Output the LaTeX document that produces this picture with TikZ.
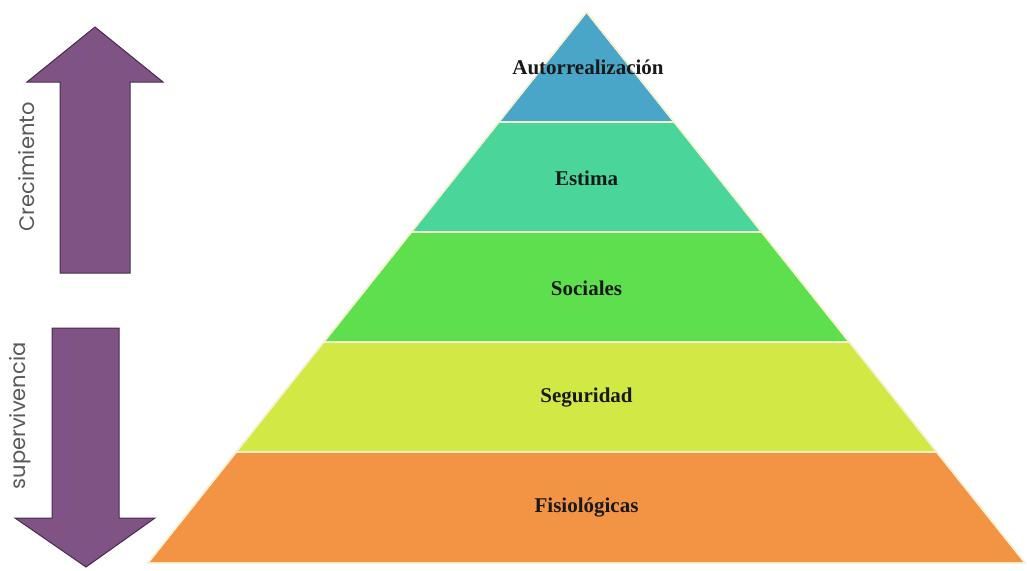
\documentclass[tikz,border=0pt]{standalone}
\usepackage{fontspec}
\setmainfont{Liberation Serif}
\newfontfamily\sidefont{Poppins}

\definecolor{autocol}{HTML}{4AA6C8}
\definecolor{estimacol}{HTML}{4AD69A}
\definecolor{socialcol}{HTML}{5EE04E}
\definecolor{segcol}{HTML}{D2E845}
\definecolor{fisiocol}{HTML}{F29444}
\definecolor{arrowfill}{HTML}{7F5484}
\definecolor{arrowline}{HTML}{4A2A50}
\definecolor{seplinecol}{HTML}{F6F1D0}

\tikzset{
  layer/.style={draw=seplinecol, line width=1.5pt, line join=round},
  levellabel/.style={font=\bfseries\fontsize{21}{24}\selectfont, text=black!90},
  bigarrow/.style={fill=arrowfill, draw=arrowline, line width=1pt, line join=miter},
  sidelabel/.style={font=\sidefont\fontsize{21}{24}\selectfont, text=black!65, rotate=90}
}

\begin{document}
\begin{tikzpicture}[x=1pt,y=-1pt]
  \useasboundingbox (0,0) rectangle (1027,570);

  % pyramid, from the base up
  \fill[layer,fill=fisiocol] (147.9,563) -- (1025.1,563) -- (936.7,452) -- (236.3,452) -- cycle;
  \fill[layer,fill=segcol] (236.3,452) -- (936.7,452) -- (849.2,342) -- (323.8,342) -- cycle;
  \fill[layer,fill=socialcol] (323.8,342) -- (849.2,342) -- (761.6,232) -- (411.4,232) -- cycle;
  \fill[layer,fill=estimacol] (411.4,232) -- (761.6,232) -- (674.1,122) -- (498.9,122) -- cycle;
  \fill[layer,fill=autocol] (498.9,122) -- (674.1,122) -- (586.5,12) -- cycle;
  \draw[layer] (147.9,563) -- (1025.1,563) -- (936.7,452) -- (236.3,452) -- cycle;
  \draw[layer] (236.3,452) -- (936.7,452) -- (849.2,342) -- (323.8,342) -- cycle;
  \draw[layer] (323.8,342) -- (849.2,342) -- (761.6,232) -- (411.4,232) -- cycle;
  \draw[layer] (411.4,232) -- (761.6,232) -- (674.1,122) -- (498.9,122) -- cycle;
  \draw[layer] (498.9,122) -- (674.1,122) -- (586.5,12) -- cycle;

  \node[levellabel] (autorr) at (588,67) {Autorrealización};
  \node[levellabel] (estima) at (586.5,178) {Estima};
  \node[levellabel] (sociales) at (586.5,288) {Sociales};
  \node[levellabel] (seguridad) at (586.5,398) {Seguridad};
  \node[levellabel] (fisio) at (586.5,508) {Fisiológicas};

  % up arrow
  \draw[bigarrow] (60,273) -- (60,82) -- (27,82) -- (95,27) -- (163,82) -- (130,82) -- (130,273) -- cycle;
  \node[sidelabel] (crec) at (27,167) {Crecimiento};

  % down arrow
  \draw[bigarrow] (52,328) -- (119,328) -- (119,518) -- (155,518) -- (86,567) -- (15,518) -- (52,518) -- cycle;
  \node[sidelabel] (superv) at (20,416) {supervivencia};
\end{tikzpicture}
\end{document}
